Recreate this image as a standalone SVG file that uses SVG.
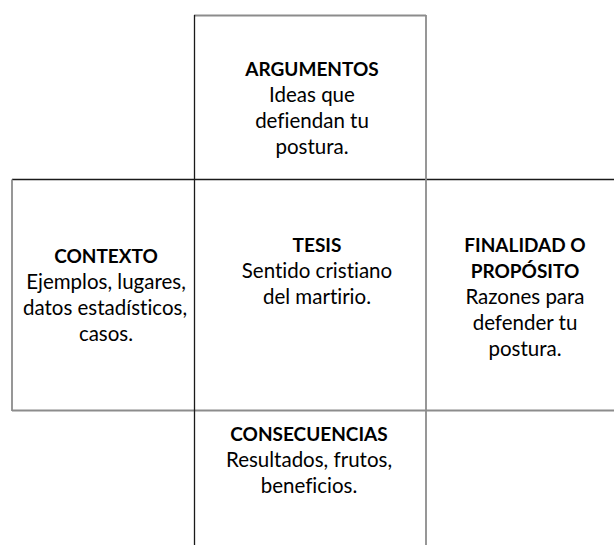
<svg xmlns="http://www.w3.org/2000/svg" width="614" height="545" viewBox="0 0 614 545">
<style>
text{font-family:Lato,"Open Sans","Liberation Sans",sans-serif;font-size:20.5px;fill:#000;text-anchor:middle;font-variant-ligatures:none;font-feature-settings:"liga" 0,"clig" 0,"dlig" 0}
.b{font-weight:bold;font-size:19px}
.dk{stroke:#1a1a1a;stroke-width:1.3;fill:none}
.gr{stroke:#8c8c8c;stroke-width:1.8;fill:none}
</style>
<rect width="614" height="545" fill="#fff"/>
<g id="grid">
<line class="gr" x1="194" y1="15.5" x2="426" y2="15.5"/>
<line class="dk" x1="12" y1="179.5" x2="614" y2="179.5"/>
<line class="gr" x1="12" y1="410.5" x2="614" y2="410.5"/>
<line class="gr" x1="12" y1="179.5" x2="12" y2="411"/>
<line class="dk" x1="194.5" y1="15" x2="194.5" y2="545"/>
<line class="gr" x1="426" y1="15" x2="426" y2="545"/>
</g>
<g id="argumentos">
<text class="b" x="312" y="76">ARGUMENTOS</text>
<text x="312" y="102">Ideas que</text>
<text x="312" y="128">defiendan tu</text>
<text x="312" y="154">postura.</text>
</g>
<g id="contexto">
<text class="b" x="106" y="263">CONTEXTO</text>
<text x="106" y="289">Ejemplos, lugares,</text>
<text x="105" y="315">datos estadísticos,</text>
<text x="106" y="341">casos.</text>
</g>
<g id="tesis">
<text class="b" x="317" y="252">TESIS</text>
<text x="317" y="278">Sentido cristiano</text>
<text x="317" y="304">del martirio.</text>
</g>
<g id="finalidad">
<text class="b" x="525" y="252">FINALIDAD O</text>
<text class="b" x="525" y="278">PROPÓSITO</text>
<text x="525" y="304">Razones para</text>
<text x="525" y="330">defender tu</text>
<text x="525" y="356">postura.</text>
</g>
<g id="consecuencias">
<text class="b" x="309" y="441">CONSECUENCIAS</text>
<text x="309" y="467">Resultados, frutos,</text>
<text x="309" y="493">beneficios.</text>
</g>
</svg>
